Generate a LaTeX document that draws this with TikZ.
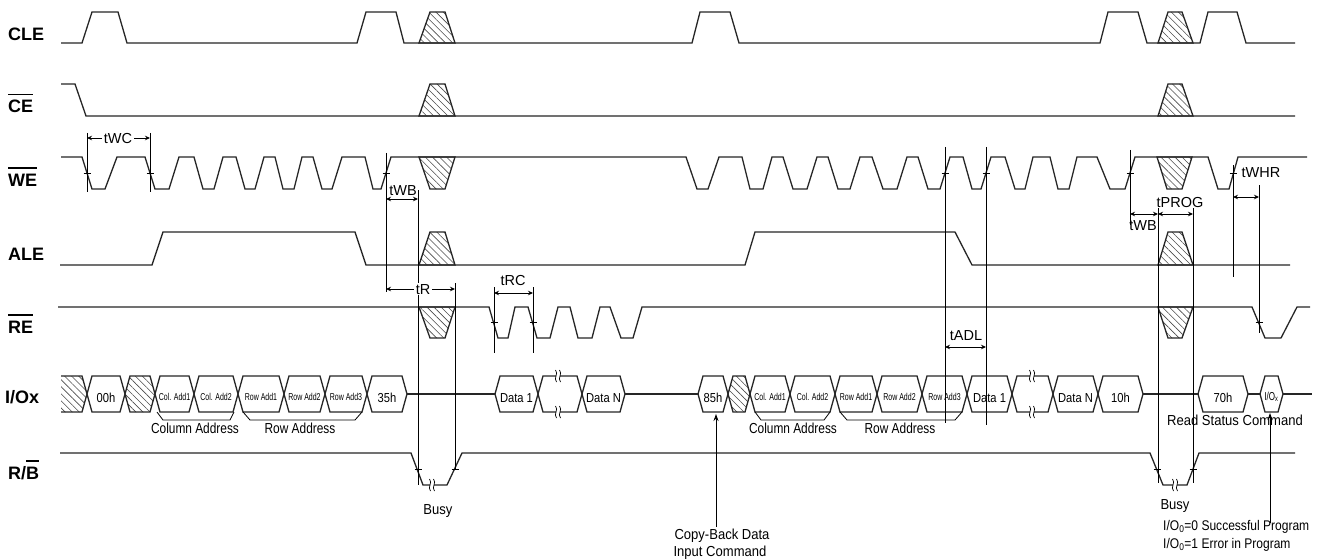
\documentclass[tikz,border=0pt]{standalone}
\usepackage{fontspec}
\setmainfont{Liberation Sans}
\newfontfamily\narA[FakeStretch=0.82]{Liberation Sans}
\newfontfamily\narB[FakeStretch=0.9]{Liberation Sans}
\newfontfamily\narC[FakeStretch=0.7]{Liberation Sans}
\newfontfamily\narD[FakeStretch=0.86]{Liberation Sans}
\usetikzlibrary{arrows.meta,patterns.meta}
\newcommand\ovl[1]{\setbox0=\hbox{#1}\rlap{\raisebox{\dimexpr\ht0+5pt\relax}{\rule{\wd0}{1.8pt}}}\box0}
\newcommand\hexa[5][hx]{%
  \draw[sig] (#2,394)--({#2+5},376)--({#3-5},376)--(#3,394)--({#3-5},412)--({#2+5},412)--cycle;
  \node[#1] (#5) at ({(#2+#3)/2},402) {#4};}
\newcommand\hexh[2]{%
  \draw[sig,hatchp] (#1,394)--({#1+5},376)--({#2-5},376)--(#2,394)--({#2-5},412)--({#1+5},412)--cycle;}
\newcommand\trap[6]{\draw[sig,hatchp] (#1,#5)--(#2,#6)--(#3,#6)--(#4,#5)--cycle;}
\newcommand\brk[2]{%
  \fill[white] ({#1-2.2},{#2-4}) rectangle ({#1+2.2},{#2+4});
  \draw[line width=0.7pt] ({#1-2.5},{#2-6}) .. controls ({#1+1},{#2-2}) and ({#1-5},{#2+2}) .. ({#1-1.5},{#2+6});
  \draw[line width=0.7pt] ({#1+1.5},{#2-6}) .. controls ({#1+5},{#2-2}) and ({#1-1},{#2+2}) .. ({#1+2.5},{#2+6});}
\newcommand\tck[2]{\draw[tk] ({#1-3.5},#2)--({#1+3.5},#2);}
\begin{document}
\begin{tikzpicture}[x=1pt,y=-1pt,
  sig/.style={line width=1.3pt, draw=black!85, line join=miter},
  hatchp/.style={pattern={Lines[angle=-45,distance=5pt,line width=0.6pt]}, pattern color=black!70},
  tl/.style={line width=0.9pt, draw=black},
  dim/.style={line width=0.9pt, {Stealth[length=5pt,width=4.5pt]}-{Stealth[length=5pt,width=4.5pt]}},
  tk/.style={line width=0.9pt},
  lbl/.style={anchor=base west, inner sep=0pt, font=\bfseries\fontsize{18}{18}\selectfont},
  tm/.style={anchor=base, inner sep=0pt, font=\fontsize{14.5}{14.5}\selectfont},
  tmw/.style={tm, fill=white, inner xsep=1.5pt, inner ysep=1pt},
  capA/.style={anchor=base, inner sep=0pt, font=\narA\fontsize{14.5}{14.5}\selectfont},
  capB/.style={anchor=base, inner sep=0pt, font=\narB\fontsize{14.5}{14.5}\selectfont},
  capC/.style={anchor=base west, inner sep=0pt, font=\narD\fontsize{14}{14}\selectfont},
  hx/.style={anchor=base, inner sep=0pt, font=\narD\fontsize{13}{13}\selectfont},
  hxs/.style={anchor=base, inner sep=0pt, yshift=2pt, font=\narC\fontsize{10}{10}\selectfont},
  arr/.style={line width=0.9pt, -{Stealth[length=7pt,width=5pt]}}
]
\useasboundingbox (0,0) rectangle (1325,559);
\fill[white] (0,0) rectangle (1325,559);

% ---------- labels ----------
\node[lbl] (lcle) at (8,41) {CLE};
\node[lbl] (lce) at (8,113) {\ovl{CE}};
\node[lbl] (lwe) at (8,186) {\ovl{WE}};
\node[lbl] (lale) at (8,260) {ALE};
\node[lbl] (lre) at (8,333) {\ovl{RE}};
\node[lbl] (lio) at (5,403) {I/Ox};
\node[lbl] (lrb) at (8,479) {R/\ovl{B}};

% ---------- CLE ----------
\draw[sig] (61,43)--(82,43)--(92,12)--(118,12)--(127,43)--(357,43)--(366,12)--(396,12)--(404,43)--(692,43)--(700,12)--(730,12)--(739,43)--(1100,43)--(1108,12)--(1138,12)--(1147,43)--(1200,43)--(1208,12)--(1237,12)--(1246,43)--(1295,43);
\trap{419}{430}{445}{455}{43}{12}
\trap{1158}{1168}{1182}{1193}{43}{12}

% ---------- CE ----------
\draw[sig] (61,84)--(75,84)--(86,116)--(1295,116);
\trap{419}{430}{445}{455}{116}{84}
\trap{1158}{1168}{1182}{1193}{116}{84}

% ---------- WE ----------
\draw[sig] (61,157)--(82,157)--(92,189)--(105,189)--(117,157)--(145,157)--(155,189)--(169,189)--(179,157)--(194,157)--(203,189)--(214,189)--(223,157)--(236,157)--(245,189)--(255,189)--(264,157)--(275,157)--(283,189)--(294,189)--(302,157)--(313,157)--(322,189)--(332,189)--(342,157)--(365,157)--(373,189)--(381,189)--(391,157)--(686,157)--(697,189)--(708,189)--(719,157)--(742,157)--(750,189)--(763,189)--(772,157)--(783,157)--(793,189)--(807,189)--(817,157)--(828,157)--(838,189)--(850,189)--(860,157)--(872,157)--(883,189)--(897,189)--(907,157)--(918,157)--(928,189)--(940,189)--(950,157)--(963,157)--(972,189)--(981,189)--(991,157)--(1005,157)--(1015,189)--(1025,189)--(1033,157)--(1050,157)--(1058,189)--(1069,189)--(1077,157)--(1097,157)--(1110,189)--(1125,189)--(1135,157)--(1208,157)--(1218,189)--(1229,189)--(1238,157)--(1307,157);
\trap{419}{430}{445}{455}{157}{189}
\trap{1157}{1167}{1182}{1192}{157}{189}

% ---------- ALE ----------
\draw[sig] (60,265)--(152,265)--(163,232)--(355,232)--(366,265)--(745,265)--(755,232)--(955,232)--(972,265)--(1290,265);
\trap{419}{430}{445}{455}{265}{232}
\trap{1158}{1168}{1182}{1193}{265}{232}

% ---------- RE ----------
\draw[sig] (58,307)--(489,307)--(498,338)--(508,338)--(515,307)--(528,307)--(537,338)--(550,338)--(558,307)--(570,307)--(578,338)--(592,338)--(600,307)--(610,307)--(621,338)--(633,338)--(642,307)--(1252,307)--(1265,338)--(1281,338)--(1297,307)--(1310,307);
\trap{419}{430}{445}{455}{307}{338}
\trap{1158}{1168}{1182}{1193}{307}{338}

% ---------- R/B ----------
\draw[sig] (60,453)--(411,453)--(423,485)--(447,485)--(462,453)--(1150,453)--(1163,485)--(1187,485)--(1199,453)--(1295,453);

% ---------- I/O bus ----------
\fill[hatchp] (61,376)--(82,376)--(87,394)--(82,412)--(61,412)--cycle;
\draw[sig] (61,376)--(82,376)--(87,394)--(82,412)--(61,412);
\hexa{87}{125}{00h}{h00}
\hexh{125}{155}
\hexa[hxs]{155}{194}{Col. Add1}{ca1}
\hexa[hxs]{194}{238}{Col. Add2}{ca2}
\hexa[hxs]{238}{284}{Row Add1}{ra1}
\hexa[hxs]{284}{325}{Row Add2}{ra2}
\hexa[hxs]{325}{367}{Row Add3}{ra3}
\hexa{367}{407}{35h}{h35}
\draw[sig] (407,394)--(495,394);
\hexa{495}{538}{Data 1}{d1a}
\hexa{538}{582}{}{gapa}
\hexa{582}{625}{Data N}{dna}
\draw[sig] (625,394)--(698,394);
\hexa{698}{728}{85h}{h85}
\hexh{728}{750}
\hexa[hxs]{750}{790}{Col. Add1}{cb1}
\hexa[hxs]{790}{835}{Col. Add2}{cb2}
\hexa[hxs]{835}{877}{Row Add1}{rb1}
\hexa[hxs]{877}{922}{Row Add2}{rb2}
\hexa[hxs]{922}{967}{Row Add3}{rb3}
\hexa{967}{1012}{Data 1}{d1b}
\hexa{1012}{1053}{}{gapb}
\hexa{1053}{1098}{Data N}{dnb}
\hexa{1098}{1143}{10h}{h10}
\draw[sig] (1143,394)--(1198,394);
\hexa{1198}{1248}{70h}{h70}
\draw[sig] (1248,394)--(1260,394);
\hexa[hxs]{1260}{1283}{\fontsize{11.5}{11.5}\selectfont I/O\textsubscript{x}}{hiox}
\draw[sig] (1283,394)--(1312,394);

% breaks
\brk{558}{376}\brk{558}{412}\brk{1032}{376}\brk{1032}{412}
\brk{432}{485}\brk{1175}{485}

% address brackets
\draw[line width=0.8pt] (157,412)--(163,420)--(230,420)--(234,412);
\draw[line width=0.8pt] (243,412)--(250,420)--(355,420)--(362,412);
\draw[line width=0.8pt] (755,412)--(761,420)--(824,420)--(830,412);
\draw[line width=0.8pt] (840,412)--(847,420)--(955,420)--(962,412);
\node[capA] (colA) at (195,433) {Column Address};
\node[capA] (rowA) at (300,433) {Row Address};
\node[capA] (colB) at (793,433) {Column Address};
\node[capA] (rowB) at (900,433) {Row Address};

% ---------- timing lines ----------
\draw[tl] (87,133)--(87,192);
\draw[tl] (150,133)--(150,192);
\draw[tl] (386,153)--(386,292);
\draw[tl] (418,190)--(418,485);
\draw[tl] (455,283)--(455,470);
\draw[tl] (494,287)--(494,353);
\draw[tl] (533,287)--(533,353);
\draw[tl] (945,147)--(945,423);
\draw[tl] (986,147)--(986,425);
\draw[tl] (1130,150)--(1130,225);
\draw[tl] (1158,208)--(1158,483);
\draw[tl] (1193,208)--(1193,483);
\draw[tl] (1233,165)--(1233,277);
\draw[tl] (1259,185)--(1259,333);

% ticks
\tck{87}{173}\tck{150}{173}\tck{386}{173}\tck{945}{173}\tck{986}{173}\tck{1130}{173}\tck{1233}{173}
\tck{494}{322}\tck{533}{322}\tck{1259}{322}
\tck{418}{469}\tck{455}{469}\tck{1157}{469}\tck{1193}{469}

% ---------- dimension arrows ----------
\draw[dim] (87,138)--(150,138);
\node[tmw] (twc) at (118,143) {tWC};
\draw[dim] (386,199)--(418,199);
\node[tm] (twb1) at (403,195) {tWB};
\draw[dim] (386,289)--(455,289);
\node[tmw] (tr) at (423,294) {tR};
\draw[dim] (494,293)--(533,293);
\node[tm] (trc) at (513,285) {tRC};
\draw[dim] (945,347)--(986,347);
\node[tm] (tadl) at (966,340) {tADL};
\draw[dim] (1130,214)--(1158,214);
\node[tm] (twb2) at (1143,230) {tWB};
\draw[dim] (1158,214)--(1193,214);
\node[tm] (tprog) at (1180,207) {tPROG};
\draw[dim] (1233,197)--(1259,197);
\node[tm] (twhr) at (1261,178) {tWHR};

% ---------- annotations ----------
\node[capB] (busy1) at (438,514) {Busy};
\node[capB] (busy2) at (1175,509) {Busy};
\coordinate (cbtop) at (716,414);
\coordinate (cbbot) at (716,527);
\draw[arr] (cbbot)--(cbtop);
\node[capB] (cb1) at (722,539) {Copy-Back Data};
\node[capB] (cb2) at (720,556) {Input Command};
\coordinate (rstop) at (1270,413);
\coordinate (rsbot) at (1270,523);
\draw[arr] (rsbot)--(rstop);
\node[capB] (rsc) at (1235,425) {Read Status Command};
\node[capC] (ok) at (1163,530) {I/O\textsubscript{0}=0 Successful Program};
\node[capC] (err) at (1163,548) {I/O\textsubscript{0}=1 Error in Program};
\end{tikzpicture}
\end{document}
